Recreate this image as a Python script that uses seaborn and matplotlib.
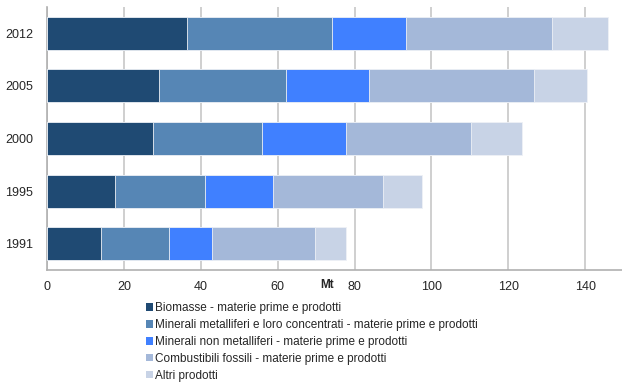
import matplotlib
matplotlib.use("Agg")
import matplotlib.pyplot as plt
import seaborn as sns
import pandas as pd
import numpy as np
from matplotlib.patches import Patch

years = ["2012", "2005", "2000", "1995", "1991"]
series_names = [
    "Biomasse - materie prime e prodotti",
    "Minerali metalliferi e loro concentrati - materie prime e prodotti",
    "Minerali non metalliferi - materie prime e prodotti",
    "Combustibili fossili - materie prime e prodotti",
    "Altri prodotti",
]
biomasse = [36.4, 29.1, 27.5, 17.7, 14.0]
minerali_metalliferi = [37.6, 33.1, 28.3, 23.4, 17.7]
minerali_non_metalliferi = [19.4, 21.5, 21.9, 17.6, 11.3]
combustibili_fossili = [38.0, 43.1, 32.7, 28.6, 26.6]
altri_prodotti = [14.6, 13.6, 13.2, 10.2, 8.1]
x_ticks = [0, 20, 40, 60, 80, 100, 120, 140]

colors = ["#1F4A73", "#5686B5", "#4080FF", "#A4B8D9", "#C8D3E6"]

sns.set_theme(style="white")
plt.rcParams["font.family"] = ["Liberation Sans", "DejaVu Sans"]

series = [biomasse, minerali_metalliferi, minerali_non_metalliferi,
          combustibili_fossili, altri_prodotti]
cum = np.cumsum(np.array(series), axis=0)

fig = plt.figure(figsize=(6.22, 3.82), dpi=100)
ax = fig.add_axes([0.0756, 0.293, 0.924, 0.689])

for i in range(len(series) - 1, -1, -1):
    df = pd.DataFrame({"year": years, "value": cum[i]})
    sns.barplot(data=df, x="value", y="year", order=years, orient="h",
                color=colors[i], width=0.63, ax=ax, edgecolor="#EEF1F6",
                linewidth=0.6, saturation=1, zorder=3)

ax.set_xlim(0, 149.5)
ax.set_ylim(4.5, -0.5)
ax.set_xticks(x_ticks)
ax.set_xticklabels([str(t) for t in x_ticks], fontsize=9)
ax.set_yticks(range(len(years)))
ax.set_yticklabels(years, fontsize=9)
ax.set_xlabel("")
ax.set_ylabel("")
ax.xaxis.grid(True, color="#C2C2C2", linewidth=1.1, zorder=0)
ax.set_axisbelow(True)
for s in ["top", "right"]:
    ax.spines[s].set_visible(False)
for s in ["left", "bottom"]:
    ax.spines[s].set_color("#B0B0B0")
    ax.spines[s].set_linewidth(1.2)

# y ticks at band boundaries
ax.set_yticks(np.arange(-0.5, 5.0, 1.0), minor=True)
ax.tick_params(axis="y", which="major", length=0, pad=10)
ax.tick_params(axis="y", which="minor", length=4, color="#B0B0B0", width=1.2, direction="out")
ax.tick_params(axis="x", which="major", length=4, color="#B0B0B0", width=1.2, direction="out", pad=4)

fig.text(327 / 622, 1 - 285.5 / 382, "Mt", fontsize=8.5, fontweight="bold",
         ha="center", va="center")

handles = [Patch(facecolor=c, edgecolor="none") for c in colors]
leg = fig.legend(handles, series_names, loc="upper left",
                 bbox_to_anchor=(146 / 622, 1 - 302 / 382), frameon=False,
                 fontsize=8.5, handlelength=0.6, handleheight=0.6,
                 handletextpad=0.2, labelspacing=0.42, borderpad=0,
                 borderaxespad=0)

fig.savefig("out.png", dpi=100)
